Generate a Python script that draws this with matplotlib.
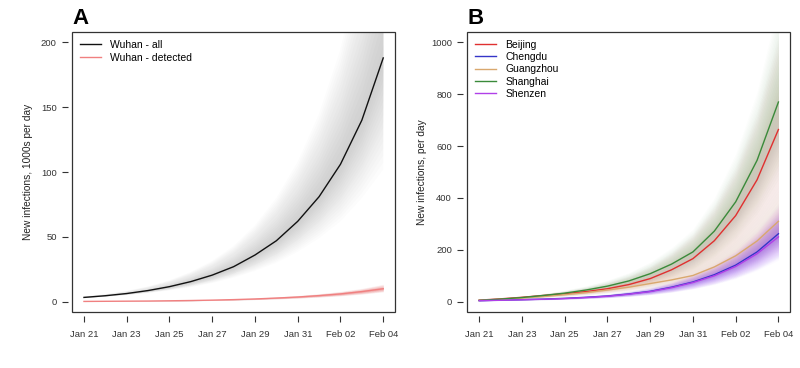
import numpy as np
import pandas as pd
import matplotlib
matplotlib.use('Agg')
import matplotlib.pyplot as plt
from matplotlib.patches import Rectangle

plt.rcParams['font.family'] = ['Liberation Sans', 'DejaVu Sans']

# days Jan 21 .. Feb 04
dates = pd.date_range('2020-01-21', '2020-02-04')
tick_days = [0, 2, 4, 6, 8, 10, 12, 14]
tick_labels = ['Jan 21', 'Jan 23', 'Jan 25', 'Jan 27', 'Jan 29', 'Jan 31', 'Feb 02', 'Feb 04']

# panel A: Wuhan, 1000s per day
wuhan_all = [3.3, 4.6, 6.3, 8.6, 11.6, 15.5, 20.5, 27, 36, 47, 62, 81, 106, 140, 188]
wuhan_all_hi = [4.0, 5.8, 8.3, 11.8, 16.5, 23, 31.5, 43, 59, 80, 108, 145, 195, 265, 360]
wuhan_all_lo = [2.9, 3.9, 5.1, 6.7, 8.7, 11.2, 14.4, 18.5, 23.7, 30, 38.5, 49, 62, 80, 102]
wuhan_det = [0.2, 0.3, 0.4, 0.5, 0.7, 0.9, 1.2, 1.6, 2.1, 2.8, 3.6, 4.7, 6.0, 7.8, 10]
wuhan_det_hi = [0.3, 0.4, 0.5, 0.7, 0.9, 1.2, 1.6, 2.1, 2.8, 3.7, 4.8, 6.2, 8.0, 10.3, 13.5]
wuhan_det_lo = [0.1, 0.2, 0.3, 0.4, 0.5, 0.7, 0.9, 1.2, 1.6, 2.1, 2.7, 3.5, 4.5, 5.8, 7.5]

# panel B: other cities, per day
cities = ['Beijing', 'Chengdu', 'Guangzhou', 'Shanghai', 'Shenzen']
city_colors = ['#E03030', '#3535C8', '#D9A86E', '#3A8A3A', '#B040E8']
cloud_colors = ['#F07070', '#6030E0', '#F0B890', '#70B070', '#8A10FF']
beijing = [6, 11, 17, 24, 31, 39, 50, 66, 89, 123, 166, 235, 332, 470, 664]
chengdu = [4, 6, 8, 10, 13, 17, 22, 30, 40, 56, 76, 104, 141, 192, 262]
guangzhou = [5, 9, 14, 20, 27, 35, 45, 56, 70, 84, 101, 134, 177, 234, 310]
shanghai = [5, 10, 16, 24, 33, 45, 60, 80, 108, 145, 192, 272, 385, 545, 770]
shenzen = [4, 5.5, 7.5, 9.5, 12, 16, 21, 29, 39, 54, 74, 100, 136, 185, 250]
beijing_hi = [7, 13, 21, 31, 42, 55, 73, 99, 136, 190, 262, 370, 520, 730, 1020]
beijing_lo = [5, 9, 13, 18, 23, 28, 35, 45, 59, 79, 105, 145, 200, 280, 390]
chengdu_hi = [5, 7.5, 10, 13, 17, 23, 30, 42, 57, 80, 110, 150, 205, 280, 380]
chengdu_lo = [3, 4.5, 6, 7.5, 9.5, 12, 15.5, 20.5, 27, 37, 50, 68, 92, 125, 170]
guangzhou_hi = [6, 11, 18, 26, 36, 48, 62, 79, 100, 124, 152, 205, 275, 370, 500]
guangzhou_lo = [4, 7, 11, 15, 20, 25, 32, 39, 48, 57, 68, 89, 116, 150, 195]
shanghai_hi = [6, 12, 20, 31, 44, 61, 83, 112, 153, 208, 280, 400, 570, 810, 1150]
shanghai_lo = [4, 8, 12.5, 18, 24, 32, 42, 55, 73, 96, 126, 175, 245, 340, 470]
shenzen_hi = [5, 7, 9.5, 12.5, 16, 21, 28, 39, 53, 75, 104, 142, 195, 270, 370]
shenzen_lo = [3, 4, 5.5, 7, 9, 11.5, 15, 20, 27, 36, 49, 66, 89, 120, 160]

city_mid = [beijing, chengdu, guangzhou, shanghai, shenzen]
city_hi = [beijing_hi, chengdu_hi, guangzhou_hi, shanghai_hi, shenzen_hi]
city_lo = [beijing_lo, chengdu_lo, guangzhou_lo, shanghai_lo, shenzen_lo]

x = np.arange(len(dates))


def cloud(ax, mid, lo, hi, color, alpha, n=16):
    # nested bands, darker near the central line
    mid, lo, hi = np.array(mid), np.array(lo), np.array(hi)
    for k in range(n):
        f = (k + 1) / n
        ax.fill_between(x, mid + f * (lo - mid), mid + f * (hi - mid),
                        color=color, alpha=alpha, lw=0)


def style(ax, ymax, yticks):
    ax.set_xlim(-0.56, 14.56)
    ax.set_ylim(-0.04 * ymax, 1.04 * ymax)
    for s in ['top', 'right']:
        ax.spines[s].set_visible(False)
    for s in ['left', 'bottom']:
        ax.spines[s].set_position(('outward', 3))
        ax.spines[s].set_color('none')
    ax.add_patch(Rectangle((0, 0), 1, 1, transform=ax.transAxes, fill=False,
                           lw=0.9, ec='#333333', clip_on=False, zorder=5))
    ax.set_xticks(tick_days)
    ax.set_xticklabels(tick_labels)
    ax.set_yticks(yticks)
    ax.tick_params(direction='out', length=4, width=0.8, labelsize=6.8,
                   colors='#333333', pad=4)
    ax.tick_params(axis='x', pad=6)


fig = plt.figure(figsize=(8, 3.68), dpi=100)
axA = fig.add_axes([0.09, 0.152, 0.404, 0.761])
axB = fig.add_axes([0.584, 0.152, 0.404, 0.761])

# panel A
cloud(axA, wuhan_all, wuhan_all_lo, wuhan_all_hi, '#808080', 0.025)
cloud(axA, wuhan_det, wuhan_det_lo, wuhan_det_hi, '#F06060', 0.045)
axA.plot(x, wuhan_all, color='#111111', lw=1.0, label='Wuhan - all')
axA.plot(x, wuhan_det, color='#F08080', lw=1.0, label='Wuhan - detected')
style(axA, 200, [0, 50, 100, 150, 200])
axA.set_ylabel('New infections, 1000s per day', fontsize=7.3, color='#222222', labelpad=6)
axA.legend(loc='upper left', frameon=False, fontsize=7.5, handlelength=2.0,
           handletextpad=0.9, labelspacing=0.3, borderaxespad=0.35)
axA.text(0.0, 1.01, 'A', transform=axA.transAxes, fontsize=16,
         fontweight='bold', ha='left', va='bottom')

# panel B
for mid, lo, hi, c in zip(city_mid, city_lo, city_hi, cloud_colors):
    cloud(axB, mid, lo, hi, c, 0.02)
for mid, name, c in zip(city_mid, cities, city_colors):
    axB.plot(x, mid, color=c, lw=1.0, label=name)
style(axB, 1000, [0, 200, 400, 600, 800, 1000])
axB.set_ylabel('New infections, per day', fontsize=7.3, color='#222222', labelpad=3)
axB.legend(loc='upper left', frameon=False, fontsize=7.5, handlelength=2.0,
           handletextpad=0.9, labelspacing=0.22, borderaxespad=0.35)
axB.text(0.0, 1.01, 'B', transform=axB.transAxes, fontsize=16,
         fontweight='bold', ha='left', va='bottom')

plt.savefig('out.png', dpi=100)
